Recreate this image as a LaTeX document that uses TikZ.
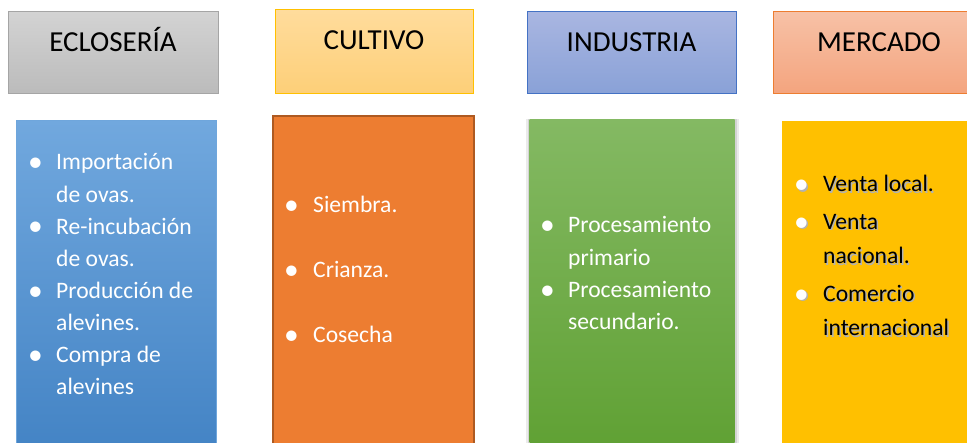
\documentclass[tikz,border=0pt]{standalone}
\usepackage{fontspec}
\setmainfont{Carlito}
\usepackage{graphicx}

\definecolor{eclTop}{HTML}{D3D3D3}
\definecolor{eclBot}{HTML}{BBBBBB}
\definecolor{eclLine}{HTML}{A5A5A5}
\definecolor{culTop}{HTML}{FFDC9C}
\definecolor{culBot}{HTML}{FDCF78}
\definecolor{culLine}{HTML}{FFC000}
\definecolor{indTop}{HTML}{A9B6E1}
\definecolor{indBot}{HTML}{89A1D7}
\definecolor{indLine}{HTML}{4472C4}
\definecolor{merTop}{HTML}{F7C1A6}
\definecolor{merBot}{HTML}{F4A47E}
\definecolor{merLine}{HTML}{ED7D31}
\definecolor{blueTop}{HTML}{71A8DE}
\definecolor{blueBot}{HTML}{4484C5}
\definecolor{blueLine}{HTML}{6FA6DC}
\definecolor{orFill}{HTML}{ED7D31}
\definecolor{orLine}{HTML}{AE5A21}
\definecolor{grTop}{HTML}{84B963}
\definecolor{grBot}{HTML}{60A134}
\definecolor{yeFill}{HTML}{FFC000}

\newlength{\entryindent}
\newcommand{\bulcolor}{.}
\newcommand{\entry}[1]{\par\hangindent=\entryindent\hangafter=1\noindent
  \makebox[\entryindent][l]{\textcolor{\bulcolor}{\raisebox{-1.7pt}{\scalebox{1.25}{\textbullet}}}}#1}
\newcommand{\mercont}{\setlength{\entryindent}{29pt}\setlength{\parskip}{3pt}%
  \entry{Venta local.}%
  \entry{Venta\newline nacional.}%
  \entry{Comercio\newline internacional}}

\begin{document}
\begin{tikzpicture}[
    x=1pt, y=-1pt,
    head/.style={draw, line width=1pt, inner sep=0pt, minimum height=82pt},
    headtext/.style={anchor=base, inner sep=0pt, font=\fontsize{29}{29}\selectfont},
    body/.style={anchor=north west, inner sep=0pt, line width=1pt},
    list/.style={anchor=base west, inner sep=0pt, text=white,
                 font=\fontsize{23.6}{32.1}\selectfont}
    ]
\useasboundingbox (0,0) rectangle (967,443);

% cabeceras
\node[head, draw=eclLine, top color=eclTop, bottom color=eclBot, minimum width=210pt] (ecl) at (113,53) {};
\node[head, draw=culLine, top color=culTop, bottom color=culBot, minimum width=198pt, minimum height=84pt] (cul) at (374,52) {};
\node[head, draw=indLine, top color=indTop, bottom color=indBot, minimum width=209pt] (ind) at (631.5,53) {};
\node[head, draw=merLine, top color=merTop, bottom color=merBot, minimum width=212pt] (mer) at (879,53) {};

\node[headtext] (ecl-t) at ([yshift=1.5pt]ecl.center) {ECLOSERÍA};
\node[headtext] (cul-t) at ([yshift=2pt]cul.center) {CULTIVO};
\node[headtext] (ind-t) at ([yshift=1.5pt]ind.center) {INDUSTRIA};
\node[headtext] (mer-t) at ([yshift=1.5pt]mer.center) {MERCADO};

% columnas
\node[body, draw=blueLine, top color=blueTop, bottom color=blueBot,
      minimum width=200pt, minimum height=326pt] (ecl-b) at (16,120) {};
\node[body, draw=orLine, fill=orFill, line width=1.6pt,
      minimum width=201pt, minimum height=331pt] (cul-b) at (272,115) {};
\node[body, fill=black, opacity=0.08, minimum width=213pt, minimum height=328pt] (ind-s1) at (525,119) {};
\node[body, fill=black, opacity=0.10, minimum width=209pt, minimum height=328pt] (ind-s2) at (527,119) {};
\node[body, top color=grTop, bottom color=grBot,
      minimum width=205pt, minimum height=327pt] (ind-b) at (529,119) {};
\node[body, fill=yeFill, minimum width=190pt, minimum height=325pt] (mer-b) at (781,121) {};

% listas
\node[list] (ecl-l) at (28,170) {\parbox[t]{185pt}{\setlength{\entryindent}{28pt}%
  \entry{Importación\newline de ovas.}%
  \entry{Re-incubación\newline de ovas.}%
  \entry{Producción de\newline alevines.}%
  \entry{Compra de\newline alevines}}};
\node[list, font=\fontsize{23.6}{32.5}\selectfont] (cul-l) at (284,213) {\parbox[t]{185pt}{%
  \setlength{\entryindent}{29pt}\setlength{\parskip}{32.5pt}%
  \entry{Siembra.}%
  \entry{Crianza.}%
  \entry{Cosecha}}};
\node[list, font=\fontsize{23.6}{32.3}\selectfont] (ind-l) at (540,233) {\parbox[t]{190pt}{\setlength{\entryindent}{28pt}%
  \entry{Procesamiento\newline primario}%
  \entry{Procesamiento\newline secundario.}}};
\node[list, text=black, font=\fontsize{23.6}{34.5}\selectfont] (mer-l) at (794,192) {%
  \makebox[0pt][l]{\raisebox{-1.4pt}{\hspace{1.4pt}\color{black!30}\parbox[t]{175pt}{\mercont}}}%
  \parbox[t]{175pt}{\renewcommand{\bulcolor}{white}\mercont}};
\end{tikzpicture}
\end{document}
